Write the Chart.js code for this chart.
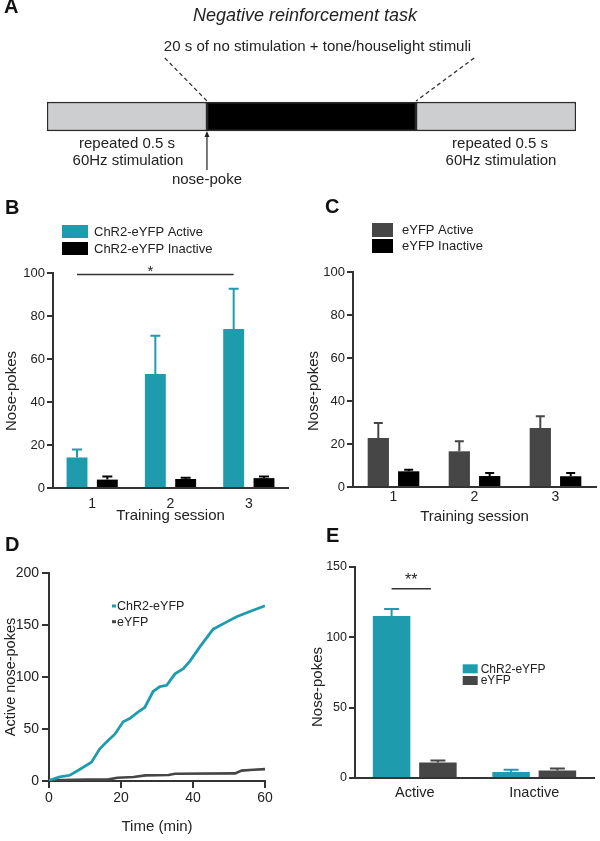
<!DOCTYPE html>
<html>
<head>
<meta charset="utf-8">
<title>Negative reinforcement task</title>
<script src="https://cdn.jsdelivr.net/npm/chart.js@4.4.1/dist/chart.umd.min.js"></script>
<style>
  html, body { margin: 0; padding: 0; background: #fff; }
  #page { position: relative; width: 600px; height: 841px; overflow: hidden; }
  .panel { position: absolute; }
  .letter { position: absolute; font: bold 20px "Liberation Sans", Arial, sans-serif; line-height: 1; color: #111; }
</style>
</head>
<body>
<div id="page">
  <canvas id="chartA" class="panel" width="600" height="190" style="left:0;top:0"></canvas>
  <canvas id="chartB" class="panel" width="300" height="340" style="left:0;top:190px"></canvas>
  <canvas id="chartC" class="panel" width="300" height="340" style="left:300px;top:190px"></canvas>
  <canvas id="chartD" class="panel" width="300" height="311" style="left:0;top:530px"></canvas>
  <canvas id="chartE" class="panel" width="300" height="311" style="left:300px;top:530px"></canvas>
  <div class="letter" style="left:4px;top:-4px">A</div>
  <div class="letter" style="left:5px;top:197px">B</div>
  <div class="letter" style="left:325px;top:196px">C</div>
  <div class="letter" style="left:5px;top:534px">D</div>
  <div class="letter" style="left:326px;top:525px">E</div>
</div>
<script>
// ---- data ----
// A: task phases (s)
const phaseNames = ['stimulation', 'no stimulation', 'stimulation'];
const phaseLengths = [15.3, 20, 15.3];

// B: ChR2-eYFP, nose-pokes per training session
const sessions = ['1', '2', '3'];
const chr2Active = [14.2, 53, 74];
const chr2ActiveSem = [3.7, 17.8, 18.7];
const chr2Inactive = [3.9, 4.2, 4.6];
const chr2InactiveSem = [1.5, 0.6, 0.8];

// C: eYFP, nose-pokes per training session
const eyfpActive = [22.8, 16.6, 27.4];
const eyfpActiveSem = [7, 4.7, 5.5];
const eyfpInactive = [7.3, 5.1, 5];
const eyfpInactiveSem = [0.7, 1.4, 1.5];

// D: cumulative active nose-pokes over time (min)
const timeChr2 = [0, 3, 5.8, 8.5, 11.8, 14.1, 16.4, 18.3, 20.6, 22.4, 24.8, 26.6, 28.9, 30.8, 32.7, 35, 37.3, 39.1, 41.9, 45.6, 49.4, 52.1, 55.8, 60];
const cumChr2 = [0.6, 4, 5.5, 11, 18, 31, 39, 45, 57, 60, 66.5, 70.7, 86, 90.7, 92, 103, 108, 115, 129, 146, 153, 158, 163, 168.5];
const timeEyfp = [0, 10.6, 16.6, 19, 23.5, 26.8, 33.2, 35, 51.7, 53.5, 56.8, 60];
const cumEyfp = [0.6, 1.3, 1.6, 3.2, 3.8, 5.4, 5.7, 7, 7.3, 10, 10.8, 11.4];

// E: totals
const groups = ['Active', 'Inactive'];
const chr2Totals = [115.2, 4.2];
const chr2TotalsSem = [5, 1.7];
const eyfpTotals = [11, 5.4];
const eyfpTotalsSem = [1.5, 1.4];

// ---- style ----
const FONT = '"Liberation Sans", Arial, sans-serif';
const TEAL = '#1e9cae';
const DARK = '#464646';
const BLACK = '#000000';
const LIGHT = '#cdcecf';
const AXIS = '#333333';

Chart.defaults.font.family = FONT;
Chart.defaults.color = '#222';
Chart.defaults.animation = false;

// error bars (upward only, cap on top)
function errorBars(capWidth) {
    return {
        id: 'errorBars',
        afterDatasetsDraw(chart) {
            const ctx = chart.ctx;
            const y = chart.scales.y;
            chart.data.datasets.forEach((ds, i) => {
                if (!ds.sem) return;
                chart.getDatasetMeta(i).data.forEach((bar, j) => {
                    const top = y.getPixelForValue(ds.data[j] + ds.sem[j]);
                    ctx.save();
                    ctx.strokeStyle = ds.backgroundColor;
                    ctx.lineWidth = 2;
                    ctx.beginPath();
                    ctx.moveTo(bar.x, bar.y);
                    ctx.lineTo(bar.x, top);
                    ctx.moveTo(bar.x - capWidth / 2, top);
                    ctx.lineTo(bar.x + capWidth / 2, top);
                    ctx.stroke();
                    ctx.restore();
                });
            });
        }
    };
}

// legend drawn at a fixed spot
function boxLegend(cfg) {
    return {
        id: 'boxLegend',
        afterDraw(chart) {
            const ctx = chart.ctx;
            ctx.save();
            ctx.font = cfg.font;
            ctx.textBaseline = 'middle';
            ctx.textAlign = 'left';
            chart.data.datasets.forEach((ds, i) => {
                const top = cfg.y + i * cfg.rowH;
                ctx.fillStyle = ds.backgroundColor || ds.borderColor;
                if (cfg.line) {
                    ctx.fillRect(cfg.x, top + cfg.boxH / 2 - 1.5, cfg.boxW, 3);
                } else {
                    ctx.fillRect(cfg.x, top, cfg.boxW, cfg.boxH);
                }
                ctx.fillStyle = '#222';
                ctx.fillText(ds.label, cfg.textX, top + cfg.boxH / 2 + 0.5);
            });
            ctx.restore();
        }
    };
}

// rotated y title
function sideTitle(text, x, y, size) {
    return {
        id: 'sideTitle',
        afterDraw(chart) {
            const ctx = chart.ctx;
            ctx.save();
            ctx.translate(x, y);
            ctx.rotate(-Math.PI / 2);
            ctx.font = size + 'px ' + FONT;
            ctx.fillStyle = '#222';
            ctx.textAlign = 'center';
            ctx.textBaseline = 'middle';
            ctx.fillText(text, 0, 0);
            ctx.restore();
        }
    };
}

// significance bar between two bars
function sigBar(cfg) {
    return {
        id: 'sigBar',
        afterDraw(chart) {
            const ctx = chart.ctx;
            const a = chart.getDatasetMeta(cfg.from[0]).data[cfg.from[1]];
            const b = chart.getDatasetMeta(cfg.to[0]).data[cfg.to[1]];
            const x1 = a.x + (cfg.dx1 || 0);
            const x2 = b.x + (cfg.dx2 || 0);
            const yy = chart.scales.y.getPixelForValue(cfg.level);
            ctx.save();
            ctx.strokeStyle = AXIS;
            ctx.lineWidth = 1.5;
            ctx.beginPath();
            ctx.moveTo(x1, yy);
            ctx.lineTo(x2, yy);
            ctx.stroke();
            ctx.font = cfg.font;
            ctx.fillStyle = '#222';
            ctx.textAlign = 'center';
            ctx.textBaseline = 'middle';
            ctx.fillText(cfg.text, (x1 + x2) / 2 + (cfg.tx || 0), yy + cfg.ty);
            ctx.restore();
        }
    };
}

function yAxis(max, step, width, tickSize, tickLen, pad) {
    return {
        min: 0, max: max,
        ticks: { stepSize: step, font: { size: tickSize }, color: '#222', padding: pad },
        grid: { drawOnChartArea: false, tickLength: tickLen, color: AXIS, lineWidth: 2 },
        border: { color: AXIS, width: 2 },
        afterFit: s => { s.width = width; }
    };
}

function catAxis(height, tickSize, pad, title, titlePad) {
    return {
        grid: { display: false, tickLength: 0 },
        border: { color: AXIS, width: 2 },
        ticks: { font: { size: tickSize }, color: '#222', padding: pad },
        title: { display: !!title, text: title, font: { size: 15 }, color: '#222', padding: { top: 0, bottom: titlePad } },
        afterFit: s => { s.height = height; }
    };
}

// ---- A: task schematic ----
const taskNotes = {
    id: 'taskNotes',
    afterDraw(chart) {
        const ctx = chart.ctx;
        const x = chart.scales.x;
        const el = chart.getDatasetMeta(0).data[0];
        const barTop = el.y - el.height / 2;
        const barBottom = el.y + el.height / 2;
        const b0 = x.getPixelForValue(0);
        const b1 = x.getPixelForValue(phaseLengths[0]);
        const b2 = x.getPixelForValue(phaseLengths[0] + phaseLengths[1]);
        const b3 = x.getPixelForValue(phaseLengths[0] + phaseLengths[1] + phaseLengths[2]);

        ctx.save();
        ctx.fillStyle = '#222';
        ctx.textAlign = 'center';
        ctx.textBaseline = 'middle';

        ctx.font = 'italic 18px ' + FONT;
        ctx.fillText('Negative reinforcement task', 305, 16);

        ctx.font = '15px ' + FONT;
        const sub = '20 s of no stimulation + tone/houselight stimuli';
        const subX = (b1 + b2) / 2 + 6;
        const subW = ctx.measureText(sub).width;
        ctx.fillText(sub, subX, 47);

        // dashed lines to the black segment
        ctx.strokeStyle = AXIS;
        ctx.lineWidth = 1.3;
        ctx.setLineDash([4, 3]);
        ctx.beginPath();
        ctx.moveTo(subX - subW / 2 + 1, 58);
        ctx.lineTo(b1, barTop - 1);
        ctx.moveTo(subX + subW / 2 + 3, 58);
        ctx.lineTo(b2, barTop - 1);
        ctx.stroke();
        ctx.setLineDash([]);

        // nose-poke arrow
        ctx.lineWidth = 1.3;
        ctx.beginPath();
        ctx.moveTo(b1, 170);
        ctx.lineTo(b1, barBottom + 4);
        ctx.stroke();
        ctx.beginPath();
        ctx.moveTo(b1, barBottom);
        ctx.lineTo(b1 - 2.5, barBottom + 6);
        ctx.lineTo(b1 + 2.5, barBottom + 6);
        ctx.closePath();
        ctx.fill();

        ctx.fillText('nose-poke', b1, 180);
        const lx = (b0 + b1) / 2;
        const rx = (b2 + b3) / 2 + 4;
        ctx.fillText('repeated 0.5 s', lx, 144);
        ctx.fillText('60Hz stimulation', lx + 1, 161);
        ctx.fillText('repeated 0.5 s', rx, 144);
        ctx.fillText('60Hz stimulation', rx + 1, 161);
        ctx.restore();
    }
};

const phaseColors = [LIGHT, BLACK, LIGHT];
new Chart(document.getElementById('chartA'), {
    type: 'bar',
    data: {
        labels: ['task'],
        datasets: phaseLengths.map((len, i) => ({
            label: phaseNames[i],
            data: [len],
            backgroundColor: phaseColors[i],
            borderColor: '#2a2a2a',
            borderWidth: 1.5,
            borderSkipped: false,
            barThickness: 29
        }))
    },
    options: {
        indexAxis: 'y',
        responsive: false,
        devicePixelRatio: 1,
        layout: { padding: { left: 47, right: 24, top: 100, bottom: 57 } },
        scales: {
            x: { stacked: true, display: false, min: 0, max: phaseLengths.reduce((a, b) => a + b, 0) },
            y: { stacked: true, display: false }
        },
        plugins: { legend: { display: false }, tooltip: { enabled: false } }
    },
    plugins: [taskNotes]
});

// ---- B ----
new Chart(document.getElementById('chartB'), {
    type: 'bar',
    data: {
        labels: sessions,
        datasets: [
            { label: 'ChR2-eYFP Active', data: chr2Active, sem: chr2ActiveSem, backgroundColor: TEAL },
            { label: 'ChR2-eYFP Inactive', data: chr2Inactive, sem: chr2InactiveSem, backgroundColor: BLACK }
        ]
    },
    options: {
        responsive: false,
        devicePixelRatio: 1,
        layout: { padding: { left: 0, right: 12, top: 83, bottom: 0 } },
        datasets: { bar: { categoryPercentage: 0.774, barPercentage: 0.69 } },
        scales: {
            x: catAxis(42, 14, 8, 'Training session', 5),
            y: yAxis(100, 20, 53, 13, 6, 2)
        },
        plugins: { legend: { display: false }, tooltip: { enabled: false } }
    },
    plugins: [
        errorBars(10),
        boxLegend({ x: 62, y: 35, boxW: 26, boxH: 13, rowH: 17, textX: 94, font: '13px ' + FONT }),
        sideTitle('Nose-pokes', 12, 201, 15),
        sigBar({ from: [0, 0], to: [0, 2], level: 99.3, text: '*', font: '15px ' + FONT, ty: -3, tx: -5 })
    ]
});

// ---- C ----
new Chart(document.getElementById('chartC'), {
    type: 'bar',
    data: {
        labels: sessions,
        datasets: [
            { label: 'eYFP Active', data: eyfpActive, sem: eyfpActiveSem, backgroundColor: DARK },
            { label: 'eYFP Inactive', data: eyfpInactive, sem: eyfpInactiveSem, backgroundColor: BLACK }
        ]
    },
    options: {
        responsive: false,
        devicePixelRatio: 1,
        layout: { padding: { left: 0, right: 4, top: 82, bottom: 0 } },
        datasets: { bar: { categoryPercentage: 0.75, barPercentage: 0.7 } },
        scales: {
            x: catAxis(43, 14, 2, 'Training session', 4),
            y: yAxis(100, 20, 53, 13, 6, 2)
        },
        plugins: { legend: { display: false }, tooltip: { enabled: false } }
    },
    plugins: [
        errorBars(9),
        boxLegend({ x: 72, y: 33, boxW: 21, boxH: 14, rowH: 16, textX: 102, font: '13px ' + FONT }),
        sideTitle('Nose-pokes', 14, 201, 15)
    ]
});

// ---- D ----
new Chart(document.getElementById('chartD'), {
    type: 'line',
    data: {
        datasets: [
            { label: 'ChR2-eYFP', data: timeChr2.map((t, i) => ({ x: t, y: cumChr2[i] })), borderColor: TEAL, borderWidth: 2.8 },
            { label: 'eYFP', data: timeEyfp.map((t, i) => ({ x: t, y: cumEyfp[i] })), borderColor: DARK, borderWidth: 2.6 }
        ]
    },
    options: {
        responsive: false,
        devicePixelRatio: 1,
        layout: { padding: { left: 0, right: 35, top: 43, bottom: 0 } },
        elements: { point: { radius: 0 }, line: { tension: 0 } },
        scales: {
            x: {
                type: 'linear', min: 0, max: 60,
                ticks: { stepSize: 20, font: { size: 14 }, color: '#222', padding: 2 },
                grid: { drawOnChartArea: false, tickLength: 7, color: AXIS, lineWidth: 2 },
                border: { color: AXIS, width: 2 },
                title: { display: true, text: 'Time (min)', font: { size: 15 }, color: '#222', padding: { top: 0, bottom: 5 } },
                afterFit: s => { s.height = 60; }
            },
            y: yAxis(200, 50, 49, 14, 7, 3)
        },
        plugins: { legend: { display: false }, tooltip: { enabled: false } }
    },
    plugins: [
        boxLegend({ x: 112, y: 70, boxW: 4, boxH: 12, rowH: 15.7, textX: 117, font: '12.5px ' + FONT, line: true }),
        sideTitle('Active nose-pokes', 11, 147, 14.5)
    ]
});

// ---- E ----
new Chart(document.getElementById('chartE'), {
    type: 'bar',
    data: {
        labels: groups,
        datasets: [
            { label: 'ChR2-eYFP', data: chr2Totals, sem: chr2TotalsSem, backgroundColor: TEAL },
            { label: 'eYFP', data: eyfpTotals, sem: eyfpTotalsSem, backgroundColor: DARK }
        ]
    },
    options: {
        responsive: false,
        devicePixelRatio: 1,
        layout: { padding: { left: 0, right: 6, top: 37, bottom: 0 } },
        datasets: { bar: { categoryPercentage: 0.775, barPercentage: 0.81 } },
        scales: {
            x: catAxis(63, 14.5, 6, '', 0),
            y: yAxis(150, 50, 55, 12.5, 6, 2)
        },
        plugins: { legend: { display: false }, tooltip: { enabled: false } }
    },
    plugins: [
        errorBars(15),
        boxLegend({ x: 162.7, y: 134.3, boxW: 15, boxH: 9, rowH: 11.7, textX: 180.7, font: '12px ' + FONT }),
        sideTitle('Nose-pokes', 18, 157, 15),
        sigBar({ from: [0, 0], to: [1, 0], dx2: -7, level: 134.6, text: '**', font: '16px ' + FONT, ty: -8, tx: 0 })
    ]
});
</script>
</body>
</html>
